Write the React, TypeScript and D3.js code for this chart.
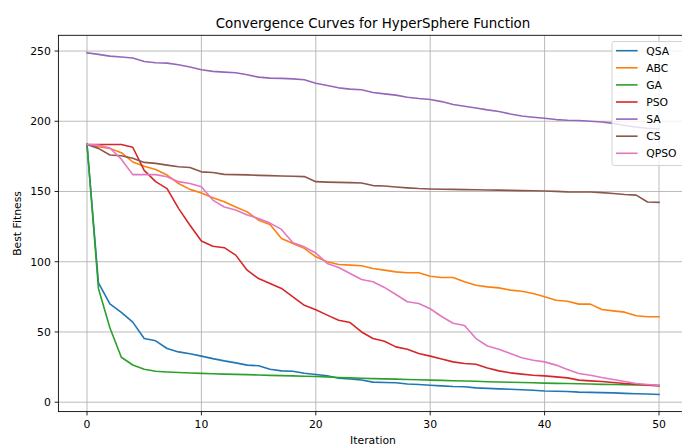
import React from "react";
import * as d3 from "d3";

const iterations = d3.range(0, 51);

const QSA = [183.5, 85, 70, 64, 57, 45.3, 43.7, 38.2, 35.8, 34.5, 32.8, 31, 29.4, 28, 26.4, 25.9, 23.5, 22.3, 22, 20.6, 19.7, 18.8, 17, 16.5, 15.8, 14.3, 14, 13.8, 13, 12.6, 12.1, 11.6, 11.2, 11, 10.2, 9.8, 9.5, 9.2, 8.9, 8.5, 8, 7.8, 7.6, 7.2, 7, 6.8, 6.6, 6.3, 6, 5.8, 5.5];
const ABC = [183.5, 181.9, 180.7, 177.6, 171, 168, 165.7, 161.7, 155.7, 151.5, 149, 145.5, 142.7, 139, 135.5, 129.6, 126.5, 116.6, 113, 109.5, 103.5, 100, 98, 97.6, 97.1, 95.2, 94, 92.8, 92.1, 92.1, 89.7, 88.8, 88.8, 85.7, 83.3, 82.1, 81.4, 79.8, 79, 77.4, 75, 72.6, 71.9, 69.8, 69.8, 66, 65, 64.1, 61.5, 60.8, 60.8];
const GA = [183.5, 81, 53, 32, 26.5, 23.5, 22, 21.5, 21.1, 20.8, 20.5, 20.2, 20, 19.8, 19.6, 19.4, 19.1, 18.9, 18.7, 18.5, 18.3, 18, 17.6, 17.3, 17, 16.8, 16.6, 16.4, 16.2, 16, 15.7, 15.5, 15.3, 15.1, 14.9, 14.6, 14.4, 14.2, 14, 13.8, 13.6, 13.4, 13.3, 13.1, 12.9, 12.7, 12.6, 12.4, 12.3, 12.2, 12];
const PSO = [183.5, 183.5, 183.5, 183.5, 181.5, 165, 157, 152, 138, 126, 114.7, 111, 110, 104.7, 94, 88, 84.5, 81, 75, 69, 65.8, 62, 58.4, 56.7, 50, 45.3, 43.4, 39.4, 37.7, 34.7, 32.8, 30.8, 28.7, 27.5, 27, 24.3, 22.3, 20.9, 20, 19.2, 18.7, 18, 17.3, 15.7, 15.2, 14.7, 14, 13.3, 12.8, 12.1, 11.6];
const SA = [248.8, 247.6, 246.4, 245.7, 245, 242.6, 241.7, 241.4, 240.2, 238.6, 236.7, 235.5, 235, 234.5, 233.1, 231.4, 230.7, 230.5, 230.2, 229.5, 227.1, 225.5, 223.8, 222.9, 222.4, 220.5, 219.5, 218.6, 217.1, 216.2, 215.5, 214, 211.9, 210.7, 209.5, 208.1, 206.9, 205.2, 203.8, 202.9, 202.1, 201.2, 200.7, 200.5, 200, 199.5, 198.5, 197, 195.8, 195, 194.5];
const CS = [183.5, 180.7, 176, 175.5, 173.6, 170.7, 170, 168.8, 167.6, 167.1, 164, 163.5, 162.2, 162, 161.8, 161.5, 161.3, 161, 160.8, 160.6, 157, 156.7, 156.5, 156.3, 156.1, 154.2, 153.9, 153.2, 152.6, 152.1, 151.8, 151.6, 151.5, 151.3, 151.2, 151.1, 151, 150.8, 150.6, 150.5, 150.3, 150.1, 149.7, 149.6, 149.6, 149.2, 148.6, 147.9, 147.4, 142.5, 142.3];
const QPSO = [183.5, 183, 181, 173, 162, 162, 162, 160.5, 157, 155.7, 153.4, 143.9, 139, 136.8, 133.2, 130.8, 127.5, 123, 113.5, 110.6, 106.2, 98.8, 95.9, 91.6, 87.4, 85.7, 81.7, 76.7, 71.5, 70.3, 66.5, 61, 56.2, 54.6, 45.3, 40, 37.7, 34.7, 31.6, 29.9, 28.7, 26.4, 23.3, 20.4, 19.2, 17.6, 16.2, 14.7, 13.3, 12.6, 11.9];

const seriesNames = ["QSA", "ABC", "GA", "PSO", "SA", "CS", "QPSO"];
const seriesValues = [QSA, ABC, GA, PSO, SA, CS, QPSO];
const colors = ["#1f77b4", "#ff7f0e", "#2ca02c", "#d62728", "#9467bd", "#8c564b", "#e377c2"];

const xTicks = [0, 10, 20, 30, 40, 50];
const yTicks = [0, 50, 100, 150, 200, 250];

const FONT = "DejaVu Sans, sans-serif";

export default function App() {
  const W = 682, H = 446;
  const left = 58.4, right = 687.6, top = 35.3, bottom = 411.6;
  const x = d3.scaleLinear().domain([-2.5, 52.5]).range([left, right]);
  const y = d3.scaleLinear().domain([-6.7, 261.2]).range([bottom, top]);
  const line = d3.line<number>().x((_, i) => x(iterations[i])).y((d) => y(d));

  const legX = 612, legY = 41.5, legW = 74, legH = 124;
  const rowH = 17.1;

  return (
    <svg width={W} height={H} style={{ position: "fixed", left: 0, top: 0, background: "#fff" }} fontFamily={FONT}>
      <rect x={0} y={0} width={W} height={H} fill="#fff" />
      <defs>
        <clipPath id="plot">
          <rect x={left} y={top} width={right - left} height={bottom - top} />
        </clipPath>
      </defs>
      {xTicks.map((t) => (
        <line key={"gx" + t} x1={x(t)} x2={x(t)} y1={top} y2={bottom} stroke="#b0b0b0" strokeWidth={0.87} />
      ))}
      {yTicks.map((t) => (
        <line key={"gy" + t} x1={left} x2={right} y1={y(t)} y2={y(t)} stroke="#b0b0b0" strokeWidth={0.87} />
      ))}
      <g clipPath="url(#plot)">
        {seriesValues.map((vals, k) => (
          <path key={seriesNames[k]} d={line(vals) || ""} fill="none" stroke={colors[k]} strokeWidth={1.6} strokeLinejoin="round" strokeLinecap="square" />
        ))}
      </g>
      <rect x={left} y={top} width={right - left} height={bottom - top} fill="none" stroke="#000" strokeWidth={0.87} />
      {xTicks.map((t) => (
        <g key={"xt" + t}>
          <line x1={x(t)} x2={x(t)} y1={bottom} y2={bottom + 3.8} stroke="#000" strokeWidth={0.87} />
          <text x={x(t)} y={bottom + 16.5} fontSize={10.8} textAnchor="middle" fill="#000">{t}</text>
        </g>
      ))}
      {yTicks.map((t) => (
        <g key={"yt" + t}>
          <line x1={left - 3.8} x2={left} y1={y(t)} y2={y(t)} stroke="#000" strokeWidth={0.87} />
          <text x={left - 7.6} y={y(t)} dy="0.36em" fontSize={10.8} textAnchor="end" fill="#000">{t}</text>
        </g>
      ))}
      <text x={(left + right) / 2} y={444} fontSize={10.8} textAnchor="middle" fill="#000">Iteration</text>
      <text transform={`translate(20.5, ${(top + bottom) / 2}) rotate(-90)`} fontSize={10.8} textAnchor="middle" fill="#000">Best Fitness</text>
      <text x={(left + right) / 2} y={27.5} fontSize={13.4} textAnchor="middle" fill="#000">Convergence Curves for HyperSphere Function</text>
      <rect x={legX} y={legY} width={legW} height={legH} rx={2.2} fill="#fff" fillOpacity={0.8} stroke="#cccccc" strokeWidth={0.87} />
      {seriesNames.map((n, k) => {
        const cy = 50.7 + k * rowH;
        return (
          <g key={"lg" + n}>
            <line x1={616} x2={637.6} y1={cy} y2={cy} stroke={colors[k]} strokeWidth={1.6} />
            <text x={646.2} y={cy} dy="0.36em" fontSize={10.8} fill="#000">{n}</text>
          </g>
        );
      })}
    </svg>
  );
}
